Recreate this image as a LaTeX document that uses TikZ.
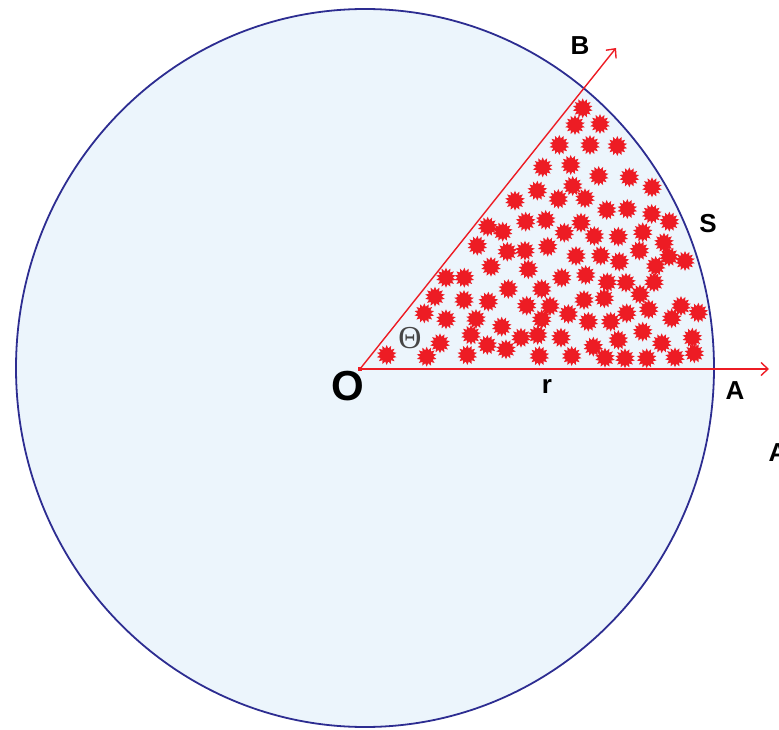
\documentclass[tikz,border=0pt]{standalone}
\usepackage{fontspec}
\setmainfont{Liberation Sans}
\newfontfamily\thfont{Liberation Serif}
\usetikzlibrary{arrows.meta,shapes.geometric}
\definecolor{discF}{RGB}{236,245,252}
\definecolor{discE}{RGB}{45,45,145}
\definecolor{rayR}{RGB}{237,28,36}
\definecolor{thG}{RGB}{70,70,70}

\begin{document}
\begin{tikzpicture}[x=1pt, y=-1pt,
    disc/.style={draw=discE, line width=1.8pt, fill=discF},
    ray/.style={draw=rayR, line width=1.4pt, -{Straight Barb[length=7pt,width=13pt]}},
    spark/.style={star, star points=14, star point ratio=1.5, minimum size=20pt, inner sep=0pt, fill=rayR},
    vtx/.style={rectangle, fill=rayR, minimum size=4pt, inner sep=0pt},
    lbl/.style={font=\bfseries\fontsize{26}{26}\selectfont},
  ]
  \useasboundingbox (0,0) rectangle (779,730);

  % the disc
  \draw[disc] (365,368) ellipse [x radius=349pt, y radius=359pt];

  % rays OA and OB
  \coordinate (O) at (360,369);
  \coordinate (Aend) at (769,369);
  \coordinate (Bend) at (616,48);
  \draw[ray] (O) -- (Aend);
  \draw[ray] (O) -- (Bend);
  \node[vtx] (Ov) at (O) {};

  %% ================= sparks filling the sector =================
  \foreach [count=\i] \x/\y in {
      582.7/108.3, 575/125, 600/124, 559.3/145, 590/145, 617.3/146,
      542.7/167.3, 570.7/165, 598.7/176, 629.3/177.3, 652/187.3,
      537.3/190.7, 572.7/186, 558.3/199, 585/198.3, 515/200.7,
      606.7/210, 627.3/209, 651.7/214, 669.3/221.7,
      487.7/226.7, 502.7/231.7, 525.7/221.7, 545.7/220, 581/222.7,
      564.3/232.7, 594.3/236, 618.3/236.7, 642.7/232.3, 664/242.7,
      477.3/245.7, 507.3/251.7, 525/250.7, 547.7/246.7, 576/256,
      600.7/255.7, 619.3/261.7, 639.3/250.7, 669/256.7, 685/261, 655.7/266,
      491/266.7, 528.3/269.3, 446/277.7, 464.3/277.7, 561.7/277.7,
      585.7/275, 607.3/282.3, 626/282.7, 654/282.3,
      508.3/289, 541.7/289, 435/296.7, 464/300, 488.3/301.7,
      584/300, 604.3/298.3, 640/294.3, 526.7/305.7, 550/306,
      424.3/313.3, 446/319.3, 476/319, 541.7/319.3, 568.3/314,
      588.3/321.7, 610.7/321.7, 626.7/313.3, 648.7/309.3, 681/306,
      671.7/318.3, 698.3/312.7, 501.7/326.7, 471/335, 440/343.3,
      521/337.7, 537.7/335, 561/337.7, 642.7/331.7, 618.3/340,
      593.3/346.7, 661.7/343.3, 692.3/337.7,
      386.7/355, 426.7/356.7, 467.3/355, 487.3/345, 506/349.3,
      539.3/356, 571.7/356, 605/357.7, 625/358.3, 646.7/358.3,
      675/357.3, 694.3/353.3} {
    \node[spark] (sp\i) at (\x,\y) {};
  }

  % labels
  \node[font=\bfseries\fontsize{42}{42}\selectfont] (Olbl) at (348,386) {O};
  \node[lbl] (Albl) at (735,391) {A};
  \node[lbl] (A2lbl) at (778,453) {A};
  \node[lbl] (Blbl) at (580,46) {B};
  \node[lbl] (Slbl) at (708,224) {S};
  \node[lbl] (rlbl) at (547,386) {r};
  \node[text=thG, font=\thfont\fontsize{32}{32}\selectfont] (th) at (410,338) {Θ};
\end{tikzpicture}
\end{document}
